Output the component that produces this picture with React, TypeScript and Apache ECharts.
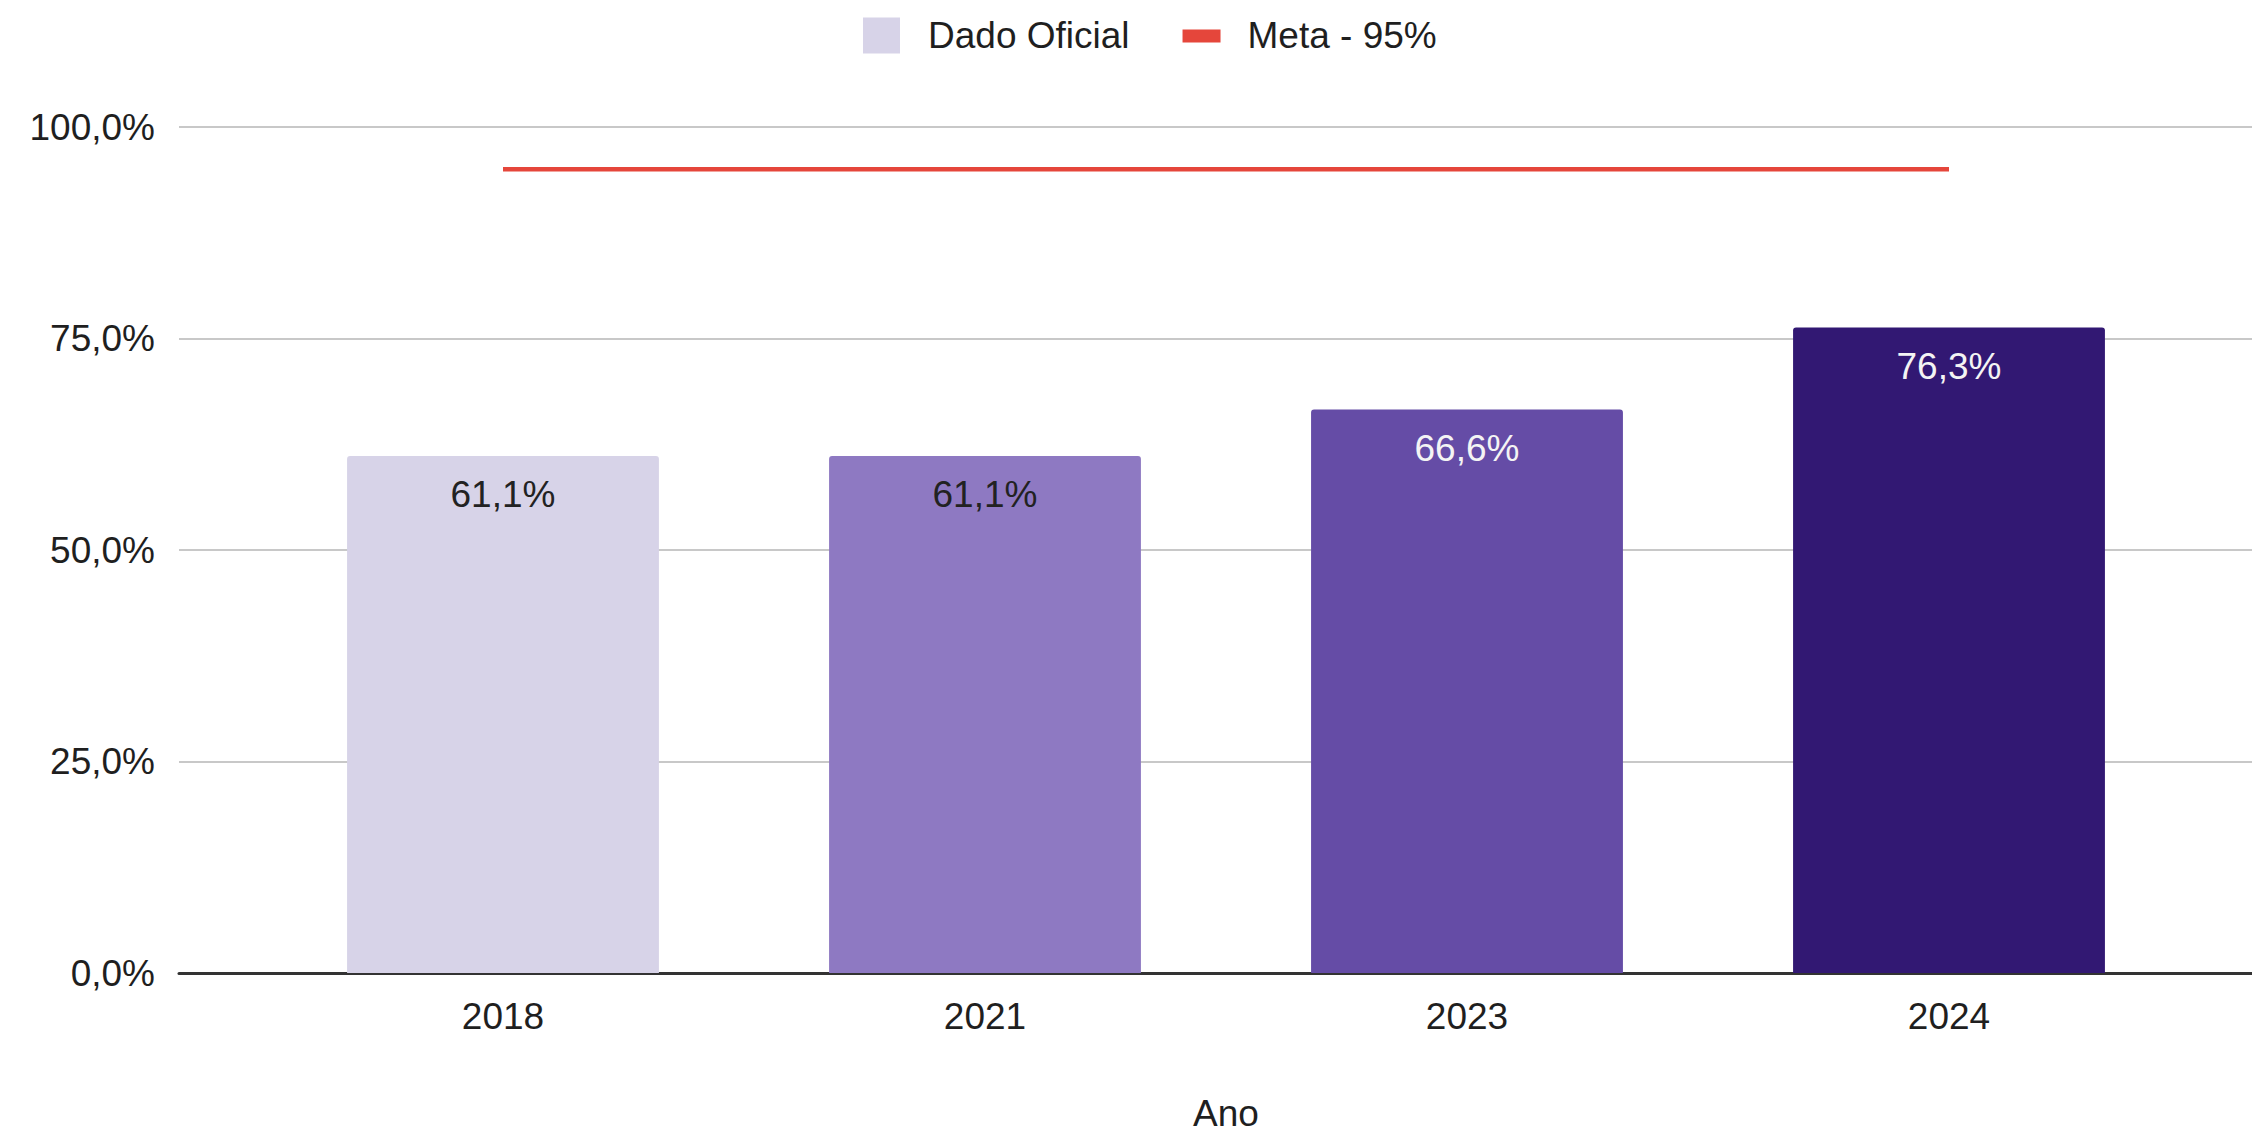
import React, { useEffect, useRef } from "react";
import * as echarts from "echarts";

const years = ["2018", "2021", "2023", "2024"];
const dadoOficial = [61.1, 61.1, 66.6, 76.3];
const meta = [95, 95, 95, 95];
const barColors = ["#d7d3e8", "#8e79c2", "#654ca6", "#321873"];
const labelColors = ["#222222", "#222222", "#f4f4f4", "#f4f4f4"];
const yMin = 0;
const yMax = 100;
const yInterval = 25;

const fmt = (v: number) => v.toFixed(1).replace(".", ",") + "%";
const FONT = "'Liberation Sans', Arial, sans-serif";

export default function App() {
  const ref = useRef<HTMLDivElement>(null);
  useEffect(() => {
    document.body.style.margin = "0";
    document.body.style.overflow = "hidden";
    const chart = echarts.init(ref.current!, null, { renderer: "svg" });
    chart.setOption({
      animation: false,
      backgroundColor: "#ffffff",
      textStyle: { fontFamily: FONT },
      legend: {
        left: 863,
        top: 17,
        padding: 0,
        itemWidth: 60,
        itemHeight: 36,
        itemGap: 53,
        textStyle: { fontSize: 37, color: "#1f1f1f", fontFamily: FONT },
        data: [
          { name: "Dado Oficial", icon: "path://M0,0 L37,0 L37,36 L0,36 Z M60,0 L60,36" },
          { name: "Meta - 95%", icon: "path://M0,12 L38,12 L38,25 L0,25 Z M0,0 L0,0 M60,36 L60,36" },
        ],
      },
      grid: [
        { left: 179, right: 0, top: 127, bottom: 155, outerBoundsMode: "none", containLabel: false },
        { left: 262, right: 62, top: 127, bottom: 155, outerBoundsMode: "none", containLabel: false },
      ],
      xAxis: [
        {
          gridIndex: 0,
          type: "category",
          data: [""],
          axisLine: { show: true, lineStyle: { color: "#333333", width: 3 } },
          axisTick: { show: false },
          axisLabel: { show: false },
        },
        {
          gridIndex: 1,
          type: "category",
          data: years,
          axisLine: { show: false },
          axisTick: { show: false },
          axisLabel: { fontSize: 37, color: "#1f1f1f", margin: 25, fontFamily: FONT },
          name: "Ano",
          nameLocation: "middle",
          nameGap: 122,
          nameTextStyle: { fontSize: 37, color: "#1f1f1f", fontFamily: FONT },
        },
      ],
      yAxis: [
        {
          gridIndex: 0,
          type: "value",
          min: yMin,
          max: yMax,
          interval: yInterval,
          axisLine: { show: false },
          axisTick: { show: false },
          axisLabel: { fontSize: 37, color: "#1f1f1f", margin: 24, formatter: fmt, fontFamily: FONT },
          splitLine: { lineStyle: { color: "#c8c8c8", width: 2 } },
        },
        {
          gridIndex: 1,
          type: "value",
          min: yMin,
          max: yMax,
          interval: yInterval,
          show: false,
          splitLine: { show: false },
        },
      ],
      series: [
        {
          name: "Dado Oficial",
          type: "bar",
          xAxisIndex: 1,
          yAxisIndex: 1,
          barWidth: "64.7%",
          itemStyle: { color: barColors[0], borderRadius: [3, 3, 0, 0] },
          data: dadoOficial.map((v, i) => ({
            value: v,
            itemStyle: { color: barColors[i] },
            label: { color: labelColors[i] },
          })),
          label: {
            show: true,
            position: "insideTop",
            distance: 20,
            fontSize: 37,
            fontFamily: FONT,
            formatter: (p: any) => fmt(p.value),
          },
        },
        {
          name: "Meta - 95%",
          type: "line",
          xAxisIndex: 1,
          yAxisIndex: 1,
          data: meta,
          symbol: "none",
          itemStyle: { color: "#e5463b" },
          lineStyle: { color: "#e5463b", width: 4.5 },
          z: 3,
        },
      ],
    });
    return () => chart.dispose();
  }, []);
  return <div ref={ref} style={{ width: 2252, height: 1128 }} />;
}
